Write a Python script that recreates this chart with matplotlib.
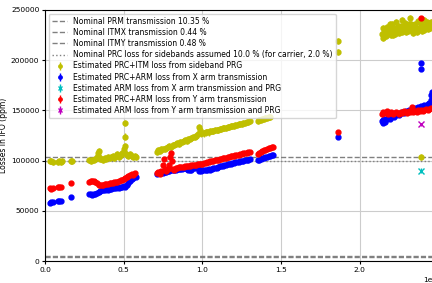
## Pérdidas estimadas en el IFO vs tiempo

import numpy as np
import matplotlib
matplotlib.use('Agg')
import matplotlib.pyplot as plt

# valores nominales (porcentaje)
prm_trans = 10.35
itmx_trans = 0.44
itmy_trans = 0.48
prc_loss_sb = 10.0
prc_loss_car = 2.0

# tiempos en unidades de 1e7, perdidas en ppm
t_prc_itm = [0.03, 0.04, 0.05, 0.08, 0.09, 0.10, 0.11, 0.165, 0.17,
             0.28, 0.29, 0.30, 0.31, 0.32, 0.33, 0.335, 0.34, 0.345, 0.35, 0.36, 0.37, 0.38, 0.39,
             0.40, 0.41, 0.42, 0.43, 0.44, 0.45, 0.46, 0.47, 0.48, 0.49, 0.50, 0.505, 0.51, 0.52,
             0.53, 0.54, 0.55, 0.56, 0.57, 0.58,
             0.51, 0.51,
             0.71, 0.72, 0.73, 0.74, 0.75, 0.76, 0.77, 0.78, 0.79, 0.80, 0.81, 0.82, 0.83, 0.84,
             0.85, 0.86, 0.87, 0.88, 0.89, 0.90, 0.91, 0.92, 0.93, 0.94, 0.95, 0.96, 0.97, 0.98,
             0.985, 0.99, 1.00, 1.01, 1.02, 1.03, 1.04, 1.05, 1.06, 1.07, 1.08, 1.09, 1.10, 1.11,
             1.12, 1.13, 1.14, 1.15, 1.16, 1.17, 1.18, 1.19, 1.20, 1.21, 1.22, 1.23, 1.24, 1.25,
             1.26, 1.27, 1.28, 1.29, 1.30,
             1.35, 1.36, 1.37, 1.38, 1.39, 1.40, 1.41, 1.42, 1.43,
             1.86, 1.86,
             2.14, 2.145, 2.15, 2.155, 2.16, 2.165, 2.17, 2.175, 2.18, 2.185, 2.19, 2.195, 2.20,
             2.205, 2.21, 2.215, 2.22, 2.225, 2.23, 2.235, 2.24, 2.245, 2.25, 2.255, 2.26, 2.265,
             2.27, 2.275, 2.28, 2.285, 2.29, 2.295, 2.30, 2.305, 2.31, 2.315, 2.32, 2.325, 2.33,
             2.335, 2.34, 2.345, 2.35, 2.355, 2.36, 2.365, 2.37, 2.375, 2.38, 2.385, 2.39, 2.395,
             2.40, 2.405, 2.41, 2.415, 2.42, 2.425, 2.43, 2.435, 2.44, 2.445, 2.45,
             2.39]
loss_prc_itm = [99500, 100000, 99000, 99000, 99500, 99000, 99500, 100000, 99500,
                100500, 100000, 100500, 101000, 101500, 104000, 108000, 110000, 104000, 101500,
                102000, 101000, 103000, 102000, 104000, 102500, 103500, 105000, 103000, 104500,
                107000, 104000, 106000, 108000, 112000, 115000, 108000, 106000, 104500, 107000,
                105000, 104000, 104500, 104000,
                137000, 124000,
                109000, 110500, 110000, 111500, 112000, 111500, 113000, 113500, 114500, 114000,
                115500, 116000, 116500, 117500, 117000, 118500, 119000, 119500, 120500, 120000,
                121500, 122000, 122500, 123500, 124000, 124500, 126000, 133000, 130000, 127000,
                127500, 127000, 128000, 128500, 128000, 129000, 129500, 129000, 130000, 130500,
                130500, 131000, 131500, 132000, 132000, 132500, 133000, 133500, 134000, 134000,
                134500, 135000, 135500, 136000, 136500, 136500, 137000, 137500, 138000, 138500,
                139000,
                139500, 140000, 140500, 141000, 141500, 142000, 142500, 143000, 143500,
                219000, 208000,
                226000, 232000, 222000, 228000, 229000, 224000, 233000, 227000, 227000, 231000,
                236000, 225000, 230000, 236000, 225000, 231000, 232000, 226000, 238000, 229000,
                229000, 234000, 227000, 233000, 234000, 228000, 240000, 230000, 231000, 237000,
                228000, 233000, 235000, 229000, 230000, 236000, 242000, 236000, 233000, 227000,
                229000, 235000, 236000, 230000, 231000, 228000, 239000, 232000, 232000, 238000,
                236000, 229000, 233000, 230000, 240000, 234000, 234000, 238000, 237000, 231000,
                235000, 232000, 238000,
                104000]

t_arm_x = [0.03, 0.04, 0.05, 0.08, 0.09, 0.10, 0.165,
           0.28, 0.29, 0.30, 0.31, 0.32, 0.33, 0.34, 0.35, 0.36, 0.37, 0.38, 0.39, 0.40, 0.41,
           0.42, 0.43, 0.44, 0.45, 0.46, 0.47, 0.48, 0.49, 0.50, 0.51, 0.52, 0.53, 0.54, 0.55,
           0.56, 0.57, 0.58,
           0.71, 0.72, 0.73, 0.74, 0.75, 0.76, 0.77, 0.78, 0.79, 0.80, 0.81, 0.82, 0.83, 0.84,
           0.85, 0.86, 0.87, 0.88, 0.89, 0.90, 0.91, 0.92, 0.93, 0.94, 0.95, 0.96, 0.97, 0.98,
           0.99, 1.00, 1.01, 1.02, 1.03, 1.04, 1.05, 1.06, 1.07, 1.08, 1.09, 1.10, 1.11, 1.12,
           1.13, 1.14, 1.15, 1.16, 1.17, 1.18, 1.19, 1.20, 1.21, 1.22, 1.23, 1.24, 1.25, 1.26,
           1.27, 1.28, 1.29, 1.30,
           1.35, 1.36, 1.37, 1.38, 1.39, 1.40, 1.41, 1.42, 1.43, 1.44, 1.45,
           1.86,
           2.14, 2.145, 2.15, 2.155, 2.16, 2.17, 2.18, 2.19, 2.20, 2.21, 2.22, 2.23, 2.24, 2.25,
           2.26, 2.27, 2.28, 2.29, 2.30, 2.31, 2.32, 2.33, 2.34, 2.35, 2.36, 2.37, 2.38, 2.39,
           2.40, 2.41, 2.42, 2.43, 2.44, 2.45, 2.455, 2.46,
           2.39, 2.39]
loss_arm_x = [58000, 58500, 59000, 59500, 60000, 60000, 64000,
              66500, 67000, 66000, 67000, 66500, 68000, 69000, 70000, 70500, 70500, 71000, 71500,
              71000, 72000, 72000, 72500, 73000, 73000, 73500, 73000, 74000, 74000, 74500, 74000,
              76000, 78000, 80000, 82000, 83000, 85000, 84000,
              87000, 88000, 88500, 87500, 88000, 89000, 89000, 90000, 90000, 90500, 90500, 91000,
              91000, 91500, 91500, 92000, 92000, 92500, 92500, 92000, 90500, 91000, 91000, 92500,
              93000, 93500, 93500, 90000, 90000, 91000, 91000, 90500, 91000, 91500, 91000, 92000,
              92500, 93000, 93000, 94000, 94500, 95000, 95000, 95500, 96000, 96500, 97000, 97000,
              97500, 98000, 98500, 98500, 99000, 99500, 100000, 100000, 100500, 101000, 101000,
              101500,
              100500, 101000, 102000, 102500, 103000, 103500, 104000, 104500, 105000, 105500, 106000,
              124000,
              139000, 137000, 140000, 141000, 138500, 141000, 142000, 141500, 143000, 144000, 143500,
              145000, 146000, 145500, 147000, 148000, 147500, 149000, 148500, 150000, 149500,
              151000, 150500, 152000, 151500, 153000, 152500, 154000, 153500, 155000, 154500,
              156000, 157000, 160000, 165000, 168000,
              197000, 191000]

t_arm_only_x = [2.39]
loss_arm_only_x = [90000]

t_arm_y = [0.03, 0.04, 0.05, 0.08, 0.09, 0.10, 0.165,
           0.28, 0.29, 0.30, 0.31, 0.32, 0.33, 0.34, 0.35, 0.36, 0.37, 0.38, 0.39, 0.40, 0.41,
           0.42, 0.43, 0.44, 0.45, 0.46, 0.47, 0.48, 0.49, 0.50, 0.51, 0.52, 0.53, 0.54, 0.55,
           0.56, 0.57,
           0.71, 0.72, 0.73, 0.74, 0.75, 0.755, 0.76, 0.77, 0.78, 0.79, 0.795, 0.80, 0.805, 0.81,
           0.82, 0.83, 0.84, 0.85, 0.86, 0.87, 0.88, 0.89, 0.90, 0.91, 0.92, 0.93, 0.94, 0.95,
           0.96, 0.97, 0.98, 0.99, 1.00, 1.01, 1.02, 1.03, 1.04, 1.05, 1.06, 1.07, 1.08, 1.09,
           1.10, 1.11, 1.12, 1.13, 1.14, 1.15, 1.16, 1.17, 1.18, 1.19, 1.20, 1.21, 1.22, 1.23,
           1.24, 1.25, 1.26, 1.27, 1.28, 1.29, 1.30,
           1.35, 1.36, 1.37, 1.38, 1.39, 1.40, 1.41, 1.42, 1.43, 1.44, 1.45,
           1.86,
           2.14, 2.15, 2.16, 2.17, 2.18, 2.19, 2.20, 2.21, 2.22, 2.23, 2.24, 2.25, 2.26, 2.27,
           2.28, 2.29, 2.30, 2.31, 2.32, 2.33, 2.34, 2.35, 2.36, 2.37, 2.38, 2.39, 2.40, 2.41,
           2.42, 2.43, 2.44, 2.45,
           2.39]
loss_arm_y = [72500, 72000, 73000, 73500, 74000, 73500, 78000,
              79000, 80000, 79500, 80000, 79000, 78000, 76000, 75500, 76000, 76000, 76500, 77000,
              77000, 77500, 77500, 78000, 78500, 79000, 79000, 80000, 80500, 81000, 82000, 83000,
              84000, 85000, 86000, 87000, 86000, 87500,
              88000, 89000, 87000, 90000, 96000, 102000, 92000, 90000, 92000, 96000, 104000,
              108000, 100000, 92000, 91000, 93000, 93000, 93500, 93500, 94000, 94000, 94500,
              94500, 95000, 95000, 95500, 95500, 96000, 96000, 96500, 96500, 97000, 97000,
              97500, 98000, 98500, 99000, 99500, 99500, 100000, 100500, 101000, 101000, 101500,
              102000, 102500, 102500, 103000, 103500, 104000, 104500, 104500, 105000, 105500,
              106000, 106000, 106500, 107000, 107500, 107500, 108000, 108500, 109000,
              107000, 108000, 109000, 110000, 110500, 111000, 112000, 112500, 113000, 113500, 114000,
              128000,
              146000, 148000, 147000, 149000, 146500, 147500, 148000, 146000, 147000, 148500,
              147000, 146500, 148000, 147500, 149000, 148000, 147000, 149500, 148500, 153000,
              148000, 149000, 148500, 150000, 149000, 150500, 149500, 150000, 151000, 150500,
              151500, 152000,
              242000]

t_arm_only_y = [2.39]
loss_arm_only_y = [136000]

fig = plt.figure(figsize=(4.32, 2.83), dpi=100)
ax = fig.add_axes([45 / 432, 22 / 283, 392 / 432, 251 / 283])

# lineas nominales
ax.axhline(prm_trans * 1e4, color='gray', linestyle='--', linewidth=1,
           label='Nominal PRM transmission %.2f %%' % prm_trans)
ax.axhline(itmx_trans * 1e4, color='gray', linestyle='--', linewidth=1,
           label='Nominal ITMX transmission %.2f %%' % itmx_trans)
ax.axhline(itmy_trans * 1e4, color='gray', linestyle='--', linewidth=1,
           label='Nominal ITMY transmission %.2f %%' % itmy_trans)
ax.axhline(prc_loss_sb * 1e4, color='gray', linestyle=':', linewidth=1,
           label='Nominal PRC loss for sidebands assumed %.1f %% (for carrier, %.1f %%)'
           % (prc_loss_sb, prc_loss_car))

# estimaciones
ax.errorbar(np.array(t_prc_itm) * 1e7, loss_prc_itm, yerr=3000, fmt='.', color='y',
            markersize=7, elinewidth=1, label='Estimated PRC+ITM loss from sideband PRG')
ax.errorbar(np.array(t_arm_x) * 1e7, loss_arm_x, yerr=2000, fmt='.', color='b',
            markersize=7, elinewidth=1, label='Estimated PRC+ARM loss from X arm transmission')
ax.errorbar(np.array(t_arm_only_x) * 1e7, loss_arm_only_x, yerr=2500, fmt='x', color='c',
            markersize=4, elinewidth=1, label='Estimated ARM loss from X arm transmission and PRG')
ax.errorbar(np.array(t_arm_y) * 1e7, loss_arm_y, yerr=2000, fmt='.', color='r',
            markersize=7, elinewidth=1, label='Estimated PRC+ARM loss from Y arm transmission')
ax.errorbar(np.array(t_arm_only_y) * 1e7, loss_arm_only_y, yerr=1500, fmt='x', color='m',
            markersize=4, elinewidth=1, label='Estimated ARM loss from Y arm transmission and PRG')

ax.set_xlim(0, 2.49e7)
ax.set_ylim(0, 250000)
ax.grid(True, color='#cccccc', linewidth=0.8)
ax.tick_params(labelsize=5.4, length=2.5, pad=1.5)
ax.xaxis.get_offset_text().set_fontsize(5.4)
ax.set_ylabel('Losses in IFO (ppm)', fontsize=5.5, labelpad=2)
ax.legend(loc='upper left', fontsize=5.5, labelspacing=0.28, markerscale=0.7)

fig.savefig('out.png', dpi=100)
